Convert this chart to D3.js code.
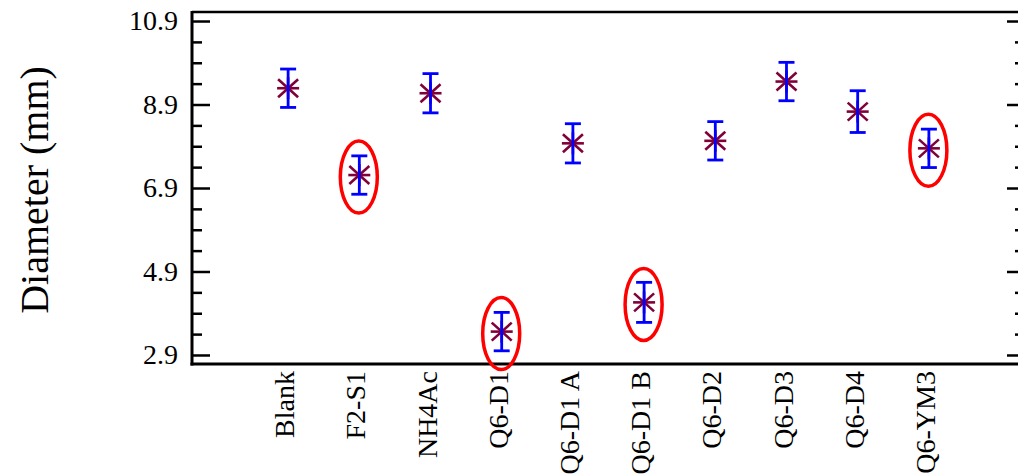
<!DOCTYPE html>
<html>
<head>
<meta charset="utf-8">
<script src="https://cdn.jsdelivr.net/npm/d3@7"></script>
<style>
  html, body { margin: 0; padding: 0; background: #fff; }
  svg { display: block; font-family: 'Liberation Serif', 'Times New Roman', serif; }
</style>
</head>
<body>
<div id="chart"></div>
<script>
const categories = ['Blank', 'F2-S1', 'NH4Ac', 'Q6-D1', 'Q6-D1 A', 'Q6-D1 B', 'Q6-D2', 'Q6-D3', 'Q6-D4', 'Q6-YM3'];
const diameters = [9.29, 7.21, 9.17, 3.46, 7.97, 4.16, 8.03, 9.45, 8.73, 7.85];
const errors = [0.46, 0.46, 0.47, 0.46, 0.47, 0.48, 0.46, 0.46, 0.50, 0.46];
const circled = ['F2-S1', 'Q6-D1', 'Q6-D1 B', 'Q6-YM3'];
const majorTicks = [2.9, 4.9, 6.9, 8.9, 10.9];
const minorTicks = [3.4, 3.9, 4.4, 5.4, 5.9, 6.4, 7.4, 7.9, 8.4, 9.4, 9.9, 10.4];
const yDomain = [2.684, 11.116];

const width = 1018;
const height = 475;
const margin = { top: 12, right: -7, bottom: 111, left: 192 };
const serif = "'Liberation Serif', 'Times New Roman', serif";

const svg = d3.select('#chart')
  .append('svg')
  .attr('width', width)
  .attr('height', height)
  .attr('viewBox', `0 0 ${width} ${height}`);

const x = d3.scalePoint()
  .domain(categories)
  .range([margin.left, width - margin.right])
  .padding(1.35);

const y = d3.scaleLinear()
  .domain(yDomain)
  .range([height - margin.bottom, margin.top]);

const x0 = margin.left;
const x1 = width - margin.right;
const yTop = margin.top;
const yBot = height - margin.bottom;

// frame
svg.append('line')
  .attr('x1', x0).attr('x2', x1).attr('y1', yTop).attr('y2', yTop)
  .attr('stroke', '#000').attr('stroke-width', 2.5);
svg.append('line')
  .attr('x1', x0 - 1.5).attr('x2', x1).attr('y1', yBot).attr('y2', yBot)
  .attr('stroke', '#000').attr('stroke-width', 3);

// left axis, ticks pointing inward
const left = svg.append('g').attr('transform', `translate(${x0},0)`);
left.call(d3.axisLeft(y).tickValues(majorTicks).tickSize(-18).tickPadding(14).tickFormat(d3.format('.1f')));
left.append('g').call(d3.axisLeft(y).tickValues(minorTicks).tickSize(-10).tickFormat(''));
left.selectAll('.domain').remove();
left.append('line').attr('x1', 0).attr('x2', 0).attr('y1', yTop - 1).attr('y2', yBot + 1.5)
  .attr('stroke', '#000').attr('stroke-width', 3);
left.selectAll('.tick line').attr('stroke', '#000').attr('stroke-width', 2.5);
left.selectAll('.tick text')
  .attr('font-size', 28)
  .attr('font-family', serif)
  .attr('fill', '#000');

// right axis (sits just past the window edge)
const right = svg.append('g').attr('transform', `translate(${x1},0)`);
right.call(d3.axisRight(y).tickValues(majorTicks).tickSize(-18).tickFormat(''));
right.append('g').call(d3.axisRight(y).tickValues(minorTicks).tickSize(-10).tickFormat(''));
right.selectAll('.domain').remove();
right.selectAll('.tick line').attr('stroke', '#000').attr('stroke-width', 2.5);

// category labels
const bottom = svg.append('g').attr('transform', `translate(0,${yBot})`);
bottom.call(d3.axisBottom(x).tickSize(0).tickPadding(0));
bottom.select('.domain').remove();
bottom.selectAll('.tick text')
  .attr('font-size', 28)
  .attr('font-family', serif)
  .attr('fill', '#000')
  .attr('text-anchor', 'end')
  .attr('transform', 'translate(0,7) rotate(-90)')
  .attr('x', 0)
  .attr('y', 0)
  .attr('dy', '0.2em');

// y title
svg.append('text')
  .attr('transform', `translate(48,${(yTop + yBot) / 2 + 2}) rotate(-90)`)
  .attr('text-anchor', 'middle')
  .attr('font-size', 40)
  .attr('font-family', serif)
  .attr('fill', '#000')
  .text('Diameter (mm)');

const points = categories.map((c, i) => ({ c, v: diameters[i], e: errors[i] }));

// asterisk markers
const star = svg.append('g').selectAll('g').data(points).join('g')
  .attr('transform', d => `translate(${x(d.c)},${y(d.v)})`)
  .attr('stroke', '#80003c')
  .attr('stroke-width', 2.6);
star.append('line').attr('x1', -11).attr('x2', 11).attr('y1', 0).attr('y2', 0);
star.append('line').attr('x1', -10).attr('x2', 10).attr('y1', -9).attr('y2', 9);
star.append('line').attr('x1', -10).attr('x2', 10).attr('y1', 9).attr('y2', -9);
star.append('line').attr('x1', 0).attr('x2', 0).attr('y1', -11).attr('y2', 11);

// error bars
const bars = svg.append('g').selectAll('g').data(points).join('g')
  .attr('stroke', '#0000ff')
  .attr('stroke-width', 2.8);
bars.append('line')
  .attr('x1', d => x(d.c)).attr('x2', d => x(d.c))
  .attr('y1', d => y(d.v + d.e)).attr('y2', d => y(d.v - d.e));
bars.append('line')
  .attr('x1', d => x(d.c) - 8).attr('x2', d => x(d.c) + 8)
  .attr('y1', d => y(d.v + d.e)).attr('y2', d => y(d.v + d.e));
bars.append('line')
  .attr('x1', d => x(d.c) - 8).attr('x2', d => x(d.c) + 8)
  .attr('y1', d => y(d.v - d.e)).attr('y2', d => y(d.v - d.e));

// red highlight ellipses
svg.append('g').selectAll('ellipse').data(points.filter(d => circled.includes(d.c))).join('ellipse')
  .attr('cx', d => x(d.c) - 0.5)
  .attr('cy', d => y(d.v) + 2)
  .attr('rx', 18.5)
  .attr('ry', 36)
  .attr('fill', 'none')
  .attr('stroke', '#ff0000')
  .attr('stroke-width', 3.5);
</script>
</body>
</html>
